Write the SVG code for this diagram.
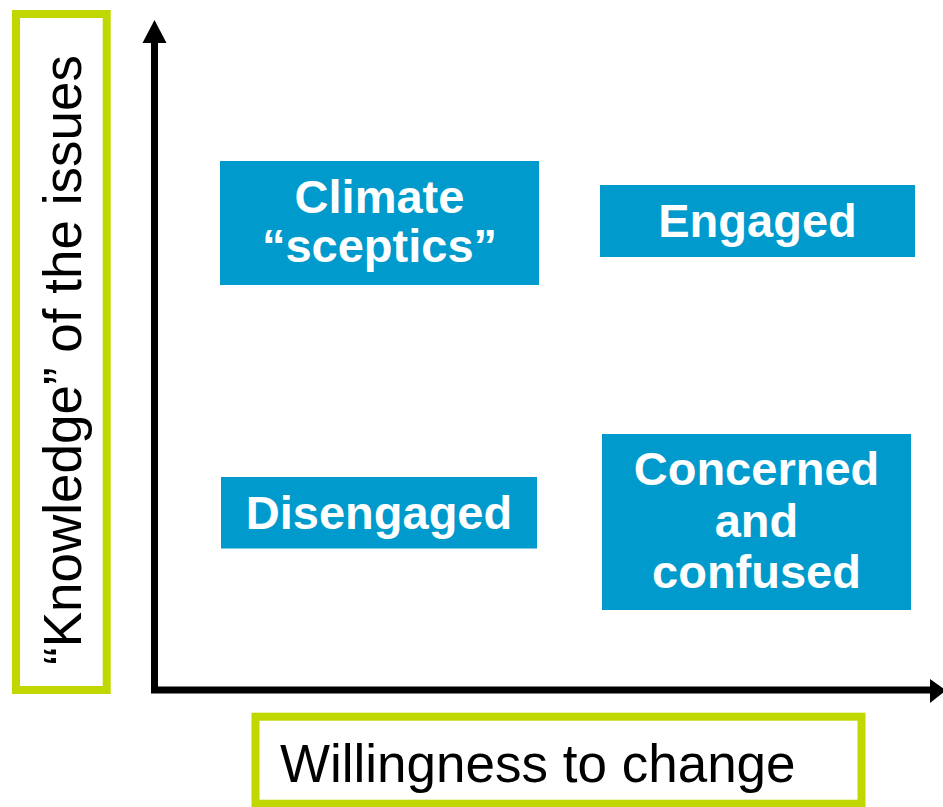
<svg xmlns="http://www.w3.org/2000/svg" width="943" height="807" viewBox="0 0 943 807">
<defs>
<style>
.frame{fill:#fff;stroke:#C0D700;stroke-width:8}
.box{fill:#009ACD}
.bt{font-family:"Liberation Sans",Arial,sans-serif;font-weight:bold;font-size:47px;fill:#fff;text-anchor:middle}
.lbl{font-family:"Liberation Sans",Arial,sans-serif;font-size:53px;fill:#000}
.axis{stroke:#000;stroke-width:7;fill:none}
</style>
</defs>
<rect width="943" height="807" fill="#fff"/>
<g id="y-label">
<rect class="frame" x="16" y="14" width="90.7" height="676"/>
<text class="lbl" text-anchor="middle" transform="translate(81,360) rotate(-90)">“Knowledge” of the issues</text>
</g>
<g id="x-label">
<rect class="frame" x="255.5" y="716.7" width="606" height="87"/>
<text class="lbl" x="280" y="782">Willingness to change</text>
</g>
<g id="axes">
<polyline class="axis" points="154.5,40 154.5,690 932,690"/>
<polygon points="154.5,20 166.5,43 142.5,43" fill="#000"/>
<polygon points="946,690.5 930,679 930,703" fill="#000"/>
</g>
<g id="climate-sceptics">
<rect class="box" x="220" y="161" width="319" height="124"/>
<text class="bt" x="379.5" y="213">Climate</text>
<text class="bt" x="379.5" y="262">“sceptics”</text>
</g>
<g id="engaged">
<rect class="box" x="600" y="185" width="315" height="72"/>
<text class="bt" x="757.5" y="237">Engaged</text>
</g>
<g id="disengaged">
<rect class="box" x="221" y="477" width="316" height="71.5"/>
<text class="bt" x="379" y="528.5">Disengaged</text>
</g>
<g id="concerned-confused">
<rect class="box" x="602" y="434" width="309" height="176"/>
<text class="bt" x="756.5" y="485">Concerned</text>
<text class="bt" x="756.5" y="537">and</text>
<text class="bt" x="756.5" y="588">confused</text>
</g>
</svg>
